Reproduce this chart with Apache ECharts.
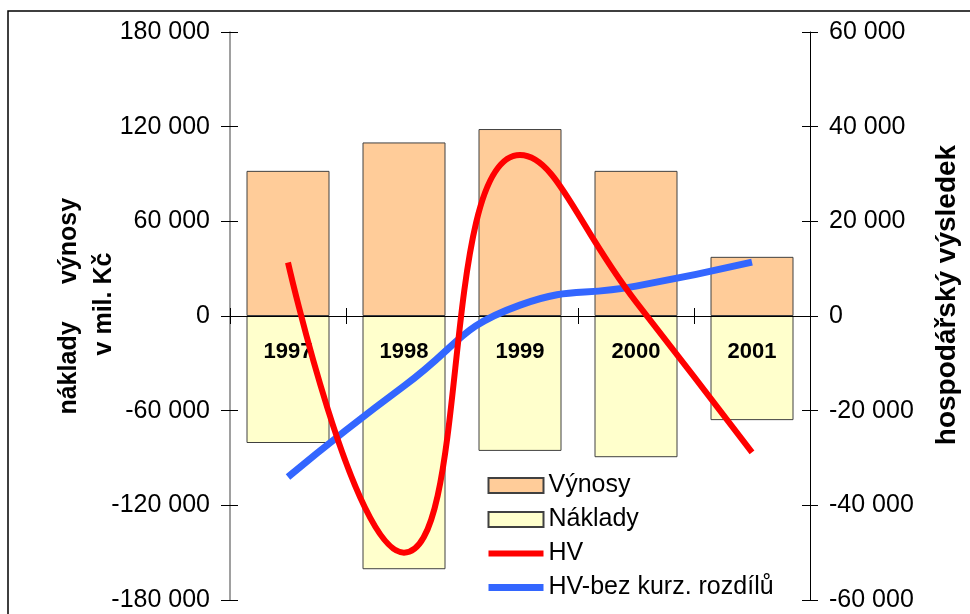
<!DOCTYPE html>
<html>
<head>
<meta charset="utf-8">
<script src="https://cdn.jsdelivr.net/npm/echarts@6/dist/echarts.min.js"></script>
<style>
html,body{margin:0;padding:0;background:#fff}
#chart{width:970px;height:614px}
</style>
</head>
<body>
<div id="chart"></div>
<script>
// roky
var years = ['1997', '1998', '1999', '2000', '2001']
// mil. Kč
var vynosy = [92000, 110000, 118500, 92000, 37500]
var naklady = [-80500, -160500, -85500, -89500, -66000]
var hv = [11300, -50000, 34000, 3000, -28800]
var hvBezKurz = [-34000, -14800, 2300, 6300, 11400]

var leftTicks = { min: -180000, max: 180000, interval: 60000 }
var rightTicks = { min: -60000, max: 60000, interval: 20000 }

var FONT = '"Liberation Sans", Arial, sans-serif'
var GRID_H = 568

function fmt(v){
    return String(v).replace(/\B(?=(\d{3})+(?!\d))/g, ' ')
}

var chart = echarts.init(document.getElementById('chart'))

var option = {
    animation: false,
    textStyle: { fontFamily: FONT },
    grid: { left: 230, right: 160, top: 32, bottom: 14, containLabel: false, outerBoundsMode: 'none' },
    legend: {
        orient: 'vertical',
        left: 485,
        top: 473,
        padding: 0,
        itemWidth: 55,
        itemHeight: 15,
        itemGap: 9,
        textStyle: { fontSize: 25, color: '#000', fontFamily: FONT },
        data: [
            { name: 'Výnosy', icon: 'rect' },
            { name: 'Náklady', icon: 'rect' },
            { name: 'HV', itemStyle: { opacity: 0 }, lineStyle: { width: 6 } },
            { name: 'HV-bez kurz. rozdílů', itemStyle: { opacity: 0 }, lineStyle: { width: 7 } }
        ]
    },
    xAxis: [{
        type: 'category',
        data: years,
        position: 'bottom',
        offset: -GRID_H / 2,
        z: 10,
        axisLine: { onZero: false, lineStyle: { color: '#000', width: 1 } },
        axisTick: { show: true, length: 8, lineStyle: { color: '#000' } },
        axisLabel: { margin: 25, fontSize: 22, fontWeight: 'bold', color: '#000', fontFamily: FONT },
        splitLine: { show: false }
    }, {
        type: 'category',
        data: years,
        position: 'bottom',
        offset: -GRID_H / 2,
        z: 10,
        axisLine: { onZero: false, show: false },
        axisTick: { show: true, inside: true, length: 8, lineStyle: { color: '#000' } },
        axisLabel: { show: false },
        splitLine: { show: false }
    }],
    yAxis: [{
        type: 'value',
        position: 'left',
        min: leftTicks.min, max: leftTicks.max, interval: leftTicks.interval,
        axisLine: { show: true, lineStyle: { color: '#808080', width: 1.5 } },
        axisTick: { show: true, length: 9, lineStyle: { color: '#000' } },
        axisLabel: { margin: 20, fontSize: 25, color: '#000', formatter: fmt, fontFamily: FONT },
        splitLine: { show: false }
    }, {
        type: 'value',
        position: 'right',
        min: rightTicks.min, max: rightTicks.max, interval: rightTicks.interval,
        axisLine: { show: true, lineStyle: { color: '#000', width: 1 } },
        axisTick: { show: true, length: 8, lineStyle: { color: '#000' } },
        axisLabel: { margin: 19, fontSize: 25, color: '#000', formatter: fmt, fontFamily: FONT },
        splitLine: { show: false }
    }, {
        type: 'value',
        position: 'left',
        min: leftTicks.min, max: leftTicks.max, interval: leftTicks.interval,
        axisLine: { show: false },
        axisTick: { show: true, inside: true, length: 8, lineStyle: { color: '#000' } },
        axisLabel: { show: false },
        splitLine: { show: false }
    }, {
        type: 'value',
        position: 'right',
        min: rightTicks.min, max: rightTicks.max, interval: rightTicks.interval,
        axisLine: { show: false },
        axisTick: { show: true, inside: true, length: 8, lineStyle: { color: '#000' } },
        axisLabel: { show: false },
        splitLine: { show: false }
    }],
    series: [{
        name: 'Výnosy',
        type: 'bar',
        data: vynosy,
        barWidth: 83,
        barGap: '-100%',
        itemStyle: { color: '#FFCC99', borderColor: '#404040', borderWidth: 1 }
    }, {
        name: 'Náklady',
        type: 'bar',
        data: naklady,
        barWidth: 83,
        barGap: '-100%',
        itemStyle: { color: '#FFFFCC', borderColor: '#404040', borderWidth: 1 }
    }, {
        name: 'HV',
        type: 'line',
        yAxisIndex: 1,
        data: hv,
        smooth: 0.5,
        symbol: 'none',
        lineStyle: { color: '#FF0000', width: 6 },
        itemStyle: { color: '#FF0000' },
        z: 15
    }, {
        name: 'HV-bez kurz. rozdílů',
        type: 'line',
        yAxisIndex: 1,
        data: hvBezKurz,
        smooth: 0.5,
        symbol: 'none',
        lineStyle: { color: '#3366FF', width: 7 },
        itemStyle: { color: '#3366FF' },
        z: 14
    }],
    graphic: [{
        type: 'rect',
        shape: { x: 8, y: 11, width: 1200, height: 1200 },
        style: { fill: 'none', stroke: '#000', lineWidth: 1.5 },
        silent: true
    }, {
        type: 'text', x: 69, y: 241, rotation: Math.PI / 2,
        style: { text: 'výnosy', font: 'bold 25px ' + FONT, fill: '#000', align: 'center', verticalAlign: 'middle' }
    }, {
        type: 'text', x: 69, y: 368, rotation: Math.PI / 2,
        style: { text: 'náklady', font: 'bold 25px ' + FONT, fill: '#000', align: 'center', verticalAlign: 'middle' }
    }, {
        type: 'text', x: 104, y: 304, rotation: Math.PI / 2,
        style: { text: 'v mil. Kč', font: 'bold 25px ' + FONT, fill: '#000', align: 'center', verticalAlign: 'middle' }
    }, {
        type: 'text', x: 947, y: 295, rotation: Math.PI / 2,
        style: { text: 'hospodářský výsledek', font: 'bold 28px ' + FONT, fill: '#000', align: 'center', verticalAlign: 'middle' }
    }]
}

chart.setOption(option)
</script>
</body>
</html>
